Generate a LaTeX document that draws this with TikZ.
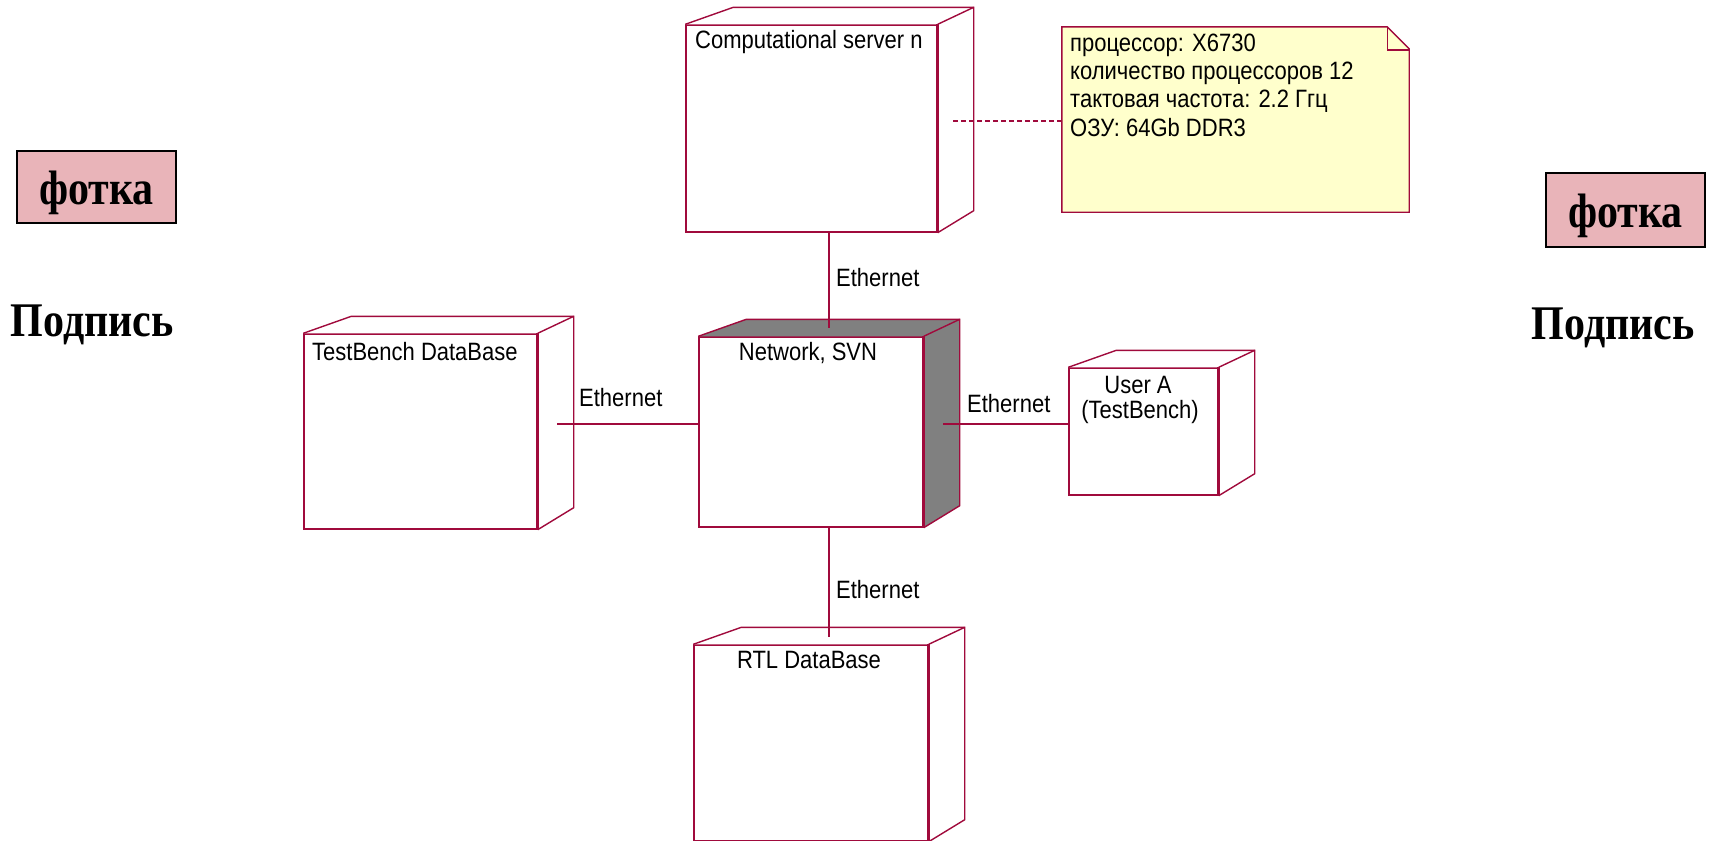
\documentclass[tikz,border=0pt]{standalone}
\usepackage{fontspec}
\usepackage{graphicx}
\usetikzlibrary{calc}
\newfontfamily\uifont{Liberation Sans}
\newfontfamily\capfont{Liberation Serif}
\definecolor{nodeline}{RGB}{160,10,60}
\definecolor{notefill}{RGB}{255,255,204}
\definecolor{photofill}{RGB}{233,180,185}
\definecolor{netgray}{RGB}{128,128,128}
% diagram text (slightly tall sans) and caption text (bold serif)
\newcommand\uitext[1]{\scalebox{1}[1.14]{\uifont\fontsize{22}{26}\selectfont #1}}
\newcommand\captext[1]{\scalebox{1}[1.15]{\capfont\bfseries\fontsize{42}{48}\selectfont #1}}
\tikzset{
  edge/.style={draw=nodeline, line width=1.4pt, line join=miter},
  thickedge/.style={draw=nodeline, line width=3.2pt},
  front/.style={rectangle, draw=nodeline, line width=1.4pt, fill=white, inner sep=0pt},
  link/.style={draw=nodeline, line width=1.4pt},
  notelink/.style={draw=nodeline, line width=1.4pt, dash pattern=on 5pt off 3pt},
  label/.style={inner sep=0pt, text=black},
  photo/.style={rectangle, draw=black, line width=1.5pt, fill=photofill, inner sep=0pt},
}
% 3D faces of a deployment node: top and right faces behind the front face
\newcommand\nodecube[2][white]{%
  \fill[fill=#1] (#2.north west) -- ++(48,-17) -- ($(#2.north east)+(36,-17)$)
     -- ($(#2.south east)+(36,-22)$) -- (#2.south east) -- (#2.north east) -- cycle;
  \draw[edge] (#2.north west) -- ++(48,-17) -- ($(#2.north east)+(36,-17)$)
     -- ($(#2.south east)+(36,-22)$) -- (#2.south east);
  \draw[edge] (#2.north east) -- ++(36,-17);
  \draw[thickedge] (#2.north east) -- (#2.south east);
}
\begin{document}
\begin{tikzpicture}[x=1pt,y=-1pt]
\useasboundingbox (0,0) rectangle (1709,841);

% deployment nodes (front faces)
\node[front, minimum width=251, minimum height=207] (srv) at (811.5,128.5) {};
\node[front, minimum width=233, minimum height=195] (tb)  at (420.5,431.5) {};
\node[front, minimum width=224, minimum height=190] (net) at (811,432) {};
\node[front, minimum width=149, minimum height=127] (usr) at (1143.5,431.5) {};
\node[front, minimum width=234, minimum height=196] (rtl) at (811,743) {};

\nodecube{srv}
\nodecube{tb}
\nodecube[netgray]{net}
\nodecube{usr}
\nodecube{rtl}

% node titles
\node[label, anchor=west] (srvName) at (695,42)  {\uitext{Computational server n}};
\node[label, anchor=west] (tbName)  at (312,352) {\uitext{TestBench DataBase}};
\node[label]              (netName) at (808,353) {\uitext{Network, SVN}};
\node[label]              (usrName) at (1138,385) {\uitext{User A}};
\node[label]              (usrRole) at (1140,412) {\uitext{(TestBench)}};
\node[label]              (rtlName) at (809,660) {\uitext{RTL DataBase}};

% note with folded corner
\node[minimum width=347, minimum height=185, inner sep=0pt] (note) at (1235.5,119.5) {};
\filldraw[edge, fill=notefill] (note.north west) -- ($(note.north east)+(-22,0)$)
   -- ($(note.north east)+(0,22)$) -- (note.south east) -- (note.south west) -- cycle;
\draw[edge] ($(note.north east)+(-22,0)$) -- ++(0,23) -- ($(note.north east)+(0,23)$);
\node[label, anchor=west] (nl1) at (1070,45)  {\uitext{процессор: X6730}};
\node[label, anchor=west] (nl2) at (1070,73)  {\uitext{количество процессоров 12}};
\node[label, anchor=west] (nl3) at (1070,101) {\uitext{тактовая частота: 2.2 Ггц}};
\node[label, anchor=west] (nl4) at (1070,128) {\uitext{ОЗУ: 64Gb DDR3}};

% connection points
\coordinate (srvPin)   at (953,121);
\coordinate (netTopPin) at (829,328);
\coordinate (tbPin)    at (557,424);
\coordinate (netRightPin) at (943,424);
\coordinate (rtlPin)   at (829,637);

% connectors
\draw[notelink] (srvPin) -- (srvPin -| note.west);
\draw[link] (srv.south -| netTopPin) -- (netTopPin);
\draw[link] (tbPin) -- (tbPin -| net.west);
\draw[link] (netRightPin) -- (netRightPin -| usr.west);
\draw[link] (net.south -| rtlPin) -- (rtlPin);

% connector labels
\node[label, anchor=west] (ethTop)   at (836,278) {\uitext{Ethernet}};
\node[label, anchor=west] (ethLeft)  at (579,398) {\uitext{Ethernet}};
\node[label, anchor=west] (ethRight) at (967,404) {\uitext{Ethernet}};
\node[label, anchor=west] (ethDown)  at (836,590) {\uitext{Ethernet}};

% photo placeholders and captions
\node[photo, minimum width=159, minimum height=72] (photoL) at (96.5,187) {};
\node[label] (photoLText) at ($(photoL.center)+(0,6)$) {\captext{фотка}};
\node[label] (capL) at (92,325) {\captext{Подпись}};
\node[photo, minimum width=159, minimum height=74] (photoR) at (1625.5,210) {};
\node[label] (photoRText) at ($(photoR.center)+(0,6)$) {\captext{фотка}};
\node[label] (capR) at (1613,328) {\captext{Подпись}};
\end{tikzpicture}
\end{document}
